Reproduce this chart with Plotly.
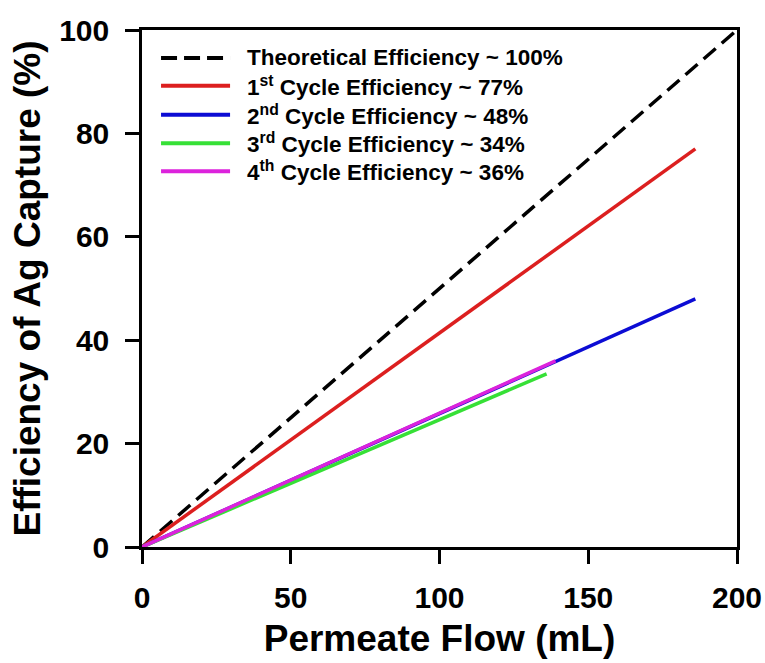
import plotly.graph_objects as go

# Data
theo_x = [0, 200]
theo_y = [0, 100]
c1_x = [0, 186]
c1_y = [0, 77]
c2_x = [0, 186]
c2_y = [0, 48]
c3_x = [0, 136]
c3_y = [0, 33.5]
c4_x = [0, 139]
c4_y = [0, 36]

names = [
    "Theoretical Efficiency ~ 100%",
    "1<sup>st</sup> Cycle Efficiency ~ 77%",
    "2<sup>nd</sup> Cycle Efficiency ~ 48%",
    "3<sup>rd</sup> Cycle Efficiency ~ 34%",
    "4<sup>th</sup> Cycle Efficiency ~ 36%",
]
colors = ["black", "#dc1f1f", "#0c0cd4", "#36e036", "#dc22dc"]
dashes = ["16px,8px", "solid", "solid", "solid", "solid"]
x_ticks = [0, 50, 100, 150, 200]
y_ticks = [0, 20, 40, 60, 80, 100]

FONT = "Liberation Sans, Arial, sans-serif"

series = [(theo_x, theo_y), (c1_x, c1_y), (c2_x, c2_y), (c3_x, c3_y), (c4_x, c4_y)]

fig = go.Figure()
for (xs, ys), nm, col, ds in zip(series, names, colors, dashes):
    fig.add_trace(go.Scatter(x=xs, y=ys, mode="lines", name=nm, showlegend=False,
                             line=dict(color=col, width=3.5, dash=ds)))

# Legend drawn in paper coordinates (upper-left, inside the frame)
leg_y = [0.946, 0.892, 0.836, 0.781, 0.727]
for ly, nm, col, ds in zip(leg_y, names, colors, dashes):
    fig.add_shape(type="line", xref="paper", yref="paper",
                  x0=0.032, x1=0.148, y0=ly, y1=ly,
                  line=dict(color=col, width=4, dash="16px,7px" if ds != "solid" else "solid"))
    fig.add_annotation(xref="paper", yref="paper", x=0.173, y=ly,
                       xanchor="left", yanchor="middle", showarrow=False,
                       text="<b>" + nm + "</b>",
                       font=dict(family=FONT, size=22.5, color="black"))

axis_common = dict(
    showline=True, linecolor="black", linewidth=2.5, mirror=True,
    ticks="outside", ticklen=14, tickwidth=2.5, tickcolor="black",
    showgrid=False, zeroline=False, automargin=False,
    tickfont=dict(family=FONT, size=30, color="black"),
)

fig.update_layout(
    width=765, height=663,
    margin=dict(l=142, r=28, t=30, b=116),
    paper_bgcolor="white", plot_bgcolor="white",
    font=dict(family=FONT, color="black"),
    xaxis=dict(range=[0, 200], tickvals=x_ticks,
               ticktext=["<b>%d</b>" % v for v in x_ticks],
               ticklabelstandoff=8,
               title=dict(text="<b>Permeate Flow (mL)</b>", standoff=13,
                          font=dict(family=FONT, size=37, color="black")),
               **axis_common),
    yaxis=dict(range=[0, 100], tickvals=y_ticks,
               ticktext=["<b>%d</b>" % v for v in y_ticks],
               ticklabelstandoff=10,
               title=dict(text="<b>Efficiency of Ag Capture (%)</b>", standoff=8,
                          font=dict(family=FONT, size=37, color="black")),
               **axis_common),
    showlegend=False,
)

fig.write_html("out.html")
